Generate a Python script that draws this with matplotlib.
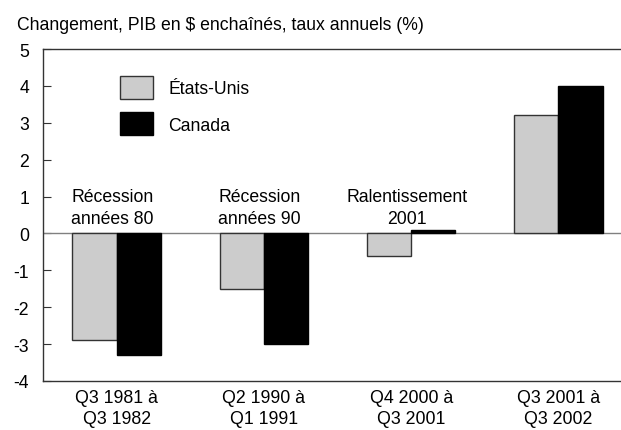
import matplotlib.pyplot as plt
import numpy as np

plt.rcParams['font.family'] = ['Liberation Sans', 'DejaVu Sans']
plt.rcParams['axes.unicode_minus'] = False

periods = ['Q3 1981 à\nQ3 1982', 'Q2 1990 à\nQ1 1991', 'Q4 2000 à\nQ3 2001', 'Q3 2001 à\nQ3 2002']
episodes = ['Récession\nannées 80', 'Récession\nannées 90', 'Ralentissement\n2001', '']
us_growth = [-2.9, -1.5, -0.6, 3.2]
canada_growth = [-3.3, -3.0, 0.1, 4.0]

W, H = 621, 431
fs = 12.7
fig = plt.figure(figsize=(W / 100, H / 100), dpi=100)
ax = fig.add_axes([43 / W, 49 / H, 589 / W, 332 / H])

x = np.arange(len(periods))
bar_width = 0.3
ax.bar(x - bar_width / 2, us_growth, width=bar_width, color='#cccccc',
       edgecolor='#333333', linewidth=1, label='États-Unis', zorder=3)
ax.bar(x + bar_width / 2, canada_growth, width=bar_width, color='black',
       edgecolor='black', linewidth=1, label='Canada', zorder=3)

ax.axhline(0, color='#808080', linewidth=1, zorder=2)

# episode labels above the zero line
for i, txt in enumerate(episodes):
    if txt:
        ax.text(i - 0.03, 0.18, txt, ha='center', va='bottom', fontsize=fs,
                linespacing=1.35)

ax.set_xlim(-0.5, 3.5)
ax.set_ylim(-4, 5)
ax.set_yticks(range(-4, 6))
ax.set_xticks(x)
ax.set_xticklabels(periods, linespacing=1.3)
ax.tick_params(axis='y', direction='in', length=6, pad=10, labelsize=fs,
               color='#333333')
ax.tick_params(axis='x', length=0, pad=6, labelsize=12.8)

ax.spines['right'].set_visible(False)
for s in ['left', 'top', 'bottom']:
    ax.spines[s].set_color('#333333')
    ax.spines[s].set_linewidth(1)

ax.legend(loc='upper left', bbox_to_anchor=(120 / W, 1 - 77 / H),
          bbox_transform=fig.transFigure, frameon=False, fontsize=fs,
          borderpad=0, handlelength=1.875, handleheight=1.63,
          handletextpad=0.85, labelspacing=0.75, borderaxespad=0)

fig.text(17 / W, 1 - 26 / H, 'Changement, PIB en $ enchaînés, taux annuels (%)',
         ha='left', va='center', fontsize=fs)

plt.savefig('out.png', dpi=100)
